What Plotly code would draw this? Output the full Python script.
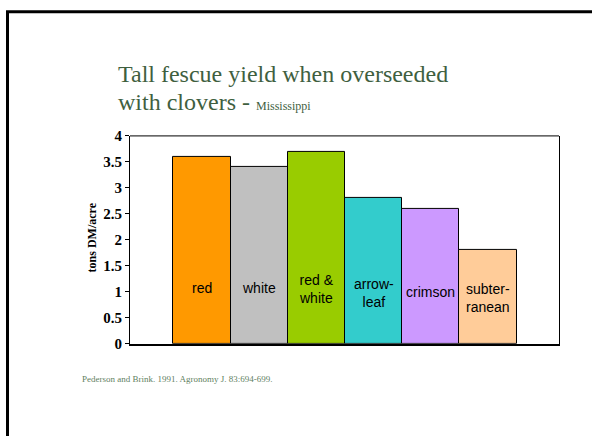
import plotly.graph_objects as go

categories = ["red", "white", "red & white", "arrowleaf", "crimson", "subterranean"]
bar_labels = ["red", "white", "red &<br>white", "arrow-<br>leaf", "crimson", "subter-<br>ranean"]
yield_tons = [3.6, 3.4, 3.7, 2.8, 2.6, 1.8]
bar_colors = ["#FF9900", "#C0C0C0", "#99CC00", "#33CCCC", "#CC99FF", "#FFCC99"]
label_y = [1.08, 1.08, 1.06, 0.98, 1.0, 0.88]
y_ticks = [0, 0.5, 1, 1.5, 2, 2.5, 3, 3.5, 4]

W, H = 592, 444
def px(x):
    return x / W
def py(y):
    return 1 - y / H

xs = list(range(len(categories)))

fig = go.Figure()
fig.add_trace(go.Bar(
    x=xs, y=yield_tons, width=1,
    marker=dict(color=bar_colors, line=dict(color="black", width=1)),
    hoverinfo="skip", showlegend=False,
))

for i, (lab, ly) in enumerate(zip(bar_labels, label_y)):
    fig.add_annotation(x=i, y=ly, xref="x", yref="y", text=lab, showarrow=False,
                       font=dict(family="Liberation Sans, Arial", size=14, color="black"),
                       yanchor="middle", xanchor="center")

fig.update_layout(
    width=W, height=H,
    margin=dict(l=0, r=0, t=0, b=0),
    paper_bgcolor="white", plot_bgcolor="white",
    bargap=0,
    xaxis=dict(domain=[px(130), px(559)], range=[-1.257, 6.24], showgrid=False,
               showticklabels=False, zeroline=False, showline=True, linecolor="black",
               linewidth=2, ticks=""),
    yaxis=dict(domain=[py(348.3), py(132.7)], range=[0, 4], tickvals=y_ticks,
               ticktext=[("<b>%g</b>" % v) for v in y_ticks], showgrid=False, zeroline=False,
               showline=True, linecolor="black", linewidth=1, mirror=True,
               ticks="outside", ticklen=4, tickcolor="black",
               tickfont=dict(family="Liberation Serif, Times New Roman", size=15, color="black")),
)

# title texts
title_font = "Liberation Serif, Cambria, serif"
fig.add_annotation(x=px(116), y=py(84), xref="paper", yref="paper", xanchor="left", yanchor="bottom",
                   text="Tall fescue yield when overseeded", showarrow=False,
                   font=dict(family=title_font, size=24, color="#3F5F3F"))
fig.add_annotation(x=px(116), y=py(113), xref="paper", yref="paper", xanchor="left", yanchor="bottom",
                   text="with clovers - <span style='font-size:12px'>Mississippi</span>", showarrow=False,
                   font=dict(family=title_font, size=24, color="#3F5F3F"))
# y axis title
fig.add_annotation(x=px(92), y=py(238), xref="paper", yref="paper", xanchor="center", yanchor="middle",
                   text="<b>tons DM/acre</b>", textangle=-90, showarrow=False,
                   font=dict(family="Liberation Serif, Times New Roman", size=12, color="black"))
# footnote
fig.add_annotation(x=px(80), y=py(385), xref="paper", yref="paper", xanchor="left", yanchor="middle",
                   text="Pederson and Brink. 1991. Agronomy J. 83:694-699.", showarrow=False,
                   font=dict(family=title_font, size=9, color="#5F7F5F"))

# slide border (left and top)
fig.add_shape(type="line", xref="paper", yref="paper", x0=px(7.5), x1=px(7.5), y0=0, y1=py(3),
              line=dict(color="black", width=3))
fig.add_shape(type="line", xref="paper", yref="paper", x0=px(6), x1=1, y0=py(4), y1=py(4),
              line=dict(color="black", width=3))
# plot frame top
fig.add_shape(type="line", xref="paper", yref="paper", x0=px(130), x1=px(559), y0=py(132.7), y1=py(132.7),
              line=dict(color="black", width=1))

fig.write_html("out.html")
